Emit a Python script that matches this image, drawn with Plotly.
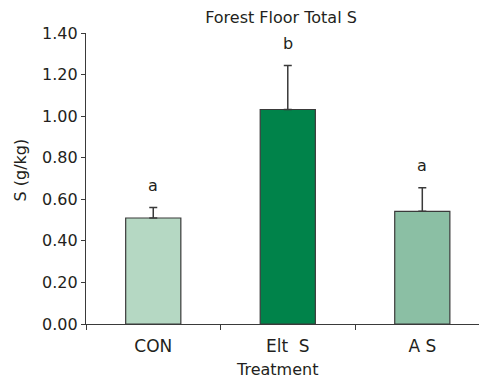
import plotly.graph_objects as go

categories = ["CON", "Elt  S", "A S"]
values = [0.51, 1.032, 0.542]
errors = [0.05, 0.212, 0.114]
letters = ["a", "b", "a"]
colors = ["#b5d8c3", "#00834a", "#8bbfa4"]

FONT = "DejaVu Sans"
TXT = "#231f20"
LINE = "#3a3a3a"

# page body has an 8px margin, so the figure is sized to fit the window
W, H = 479, 377
L, T, B = 78, 25, 61
PW, PH = W - L, H - T - B

fig = go.Figure()
fig.add_trace(go.Bar(
    x=categories, y=values,
    marker=dict(color=colors, line=dict(color=LINE, width=1.2)),
    error_y=dict(type="data", array=errors, arrayminus=[0]*len(errors), symmetric=False,
                 color=LINE, thickness=1.5, width=4),
    width=0.41,
))

for c, v, e, l in zip(categories, values, errors, letters):
    fig.add_annotation(x=c, y=v + e, text=l, showarrow=False, yshift=22,
                       font=dict(family=FONT, size=16, color=TXT))

# axis titles
fig.add_annotation(text="Treatment", xref="paper", yref="paper", x=(277 - 86) / PW, y=-46 / PH,
                   showarrow=False, xanchor="center", yanchor="middle",
                   font=dict(family=FONT, size=16, color=TXT))
fig.add_annotation(text="S (g/kg)", xref="paper", yref="paper", x=-66 / PW, y=(324 - 170.5) / PH,
                   showarrow=False, xanchor="center", yanchor="middle", textangle=-90,
                   font=dict(family=FONT, size=16, color=TXT))

fig.update_layout(
    width=W, height=H,
    margin=dict(l=L, r=0, t=T, b=B),
    paper_bgcolor="white", plot_bgcolor="white",
    showlegend=False,
    font=dict(family=FONT, size=16, color=TXT),
    title=dict(text="Forest Floor Total S", x=273 / W, xanchor="center",
               y=1 - 9 / H, yanchor="middle", yref="container",
               font=dict(family=FONT, size=16, color=TXT)),
    xaxis=dict(range=[-0.5, 2.481], showline=True, linecolor=LINE, linewidth=1.2,
               ticks="outside", tickson="boundaries", ticklen=5, tickcolor=LINE,
               showgrid=False, zeroline=False, automargin=False,
               ticklabelstandoff=6,
               tickfont=dict(size=17)),
    yaxis=dict(range=[0, 1.4], dtick=0.2, tickformat=".2f", showline=True, linecolor=LINE,
               linewidth=1.2, ticks="outside", ticklen=4, tickcolor=LINE,
               showgrid=False, zeroline=False, automargin=False,
               tickfont=dict(size=16)),
)

fig.write_html("out.html")
